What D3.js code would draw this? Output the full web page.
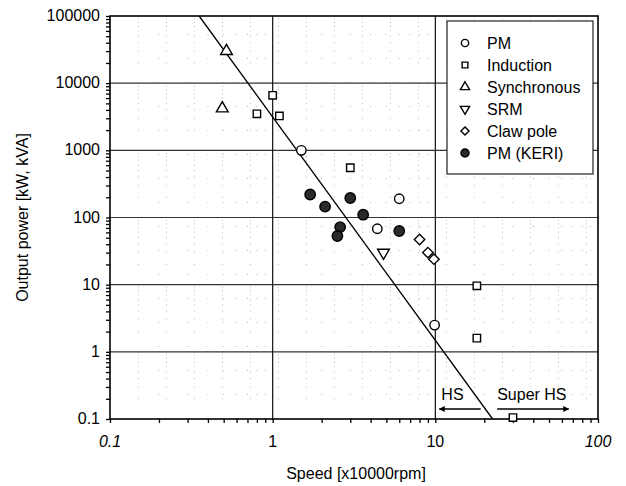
<!DOCTYPE html>
<html>
<head>
<meta charset="utf-8">
<script src="https://cdn.jsdelivr.net/npm/d3@7"></script>
<style>
  body { margin: 0; background: #fff; }
  svg { font-family: "Liberation Sans", Arial, sans-serif; }
</style>
</head>
<body>
<svg id="chart" width="626" height="486"></svg>
<script>
// series (speed x10000rpm, power kW/kVA)
var seriesNames = ["PM", "Induction", "Synchronous", "SRM", "Claw pole", "PM (KERI)"];
var pmX = [1.5, 6, 4.4, 9.9];
var pmY = [1000, 190, 68, 2.5];
var indX = [1.0, 0.8, 1.1, 3.0, 18, 18, 30];
var indY = [6600, 3500, 3250, 550, 9.6, 1.6, 0.105];
var synX = [0.52, 0.49];
var synY = [30000, 4200];
var srmX = [4.8];
var srmY = [30];
var clawX = [8, 9, 9.8];
var clawY = [47, 30, 24];
var keriX = [1.7, 2.1, 3.0, 3.6, 2.6, 2.5, 6.0];
var keriY = [220, 145, 195, 110, 72, 53, 63];
var trendX = [0.353, 22.5];
var trendY = [100000, 0.1];
var xTicks = [0.1, 1, 10, 100];
var yTicks = [0.1, 1, 10, 100, 1000, 10000, 100000];

var svg = d3.select("svg#chart");
var margin = { left: 110, right: 28, top: 16, bottom: 67 };
var width = 626, height = 486;

var x = d3.scaleLog().domain([0.1, 100]).range([margin.left, width - margin.right]);
var y = d3.scaleLog().domain([0.1, 100000]).range([height - margin.bottom, margin.top]);

var g = svg.append("g");

// minor dotted grid (very sparse in the original)
var minorX = [], minorY = [];
for (var d = 0.1; d < 100; d *= 10) for (var k = 2; k < 10; k++) minorX.push(d * k);
for (var d = 0.1; d < 100000; d *= 10) for (var k = 2; k < 10; k++) minorY.push(d * k);

g.selectAll("line.mx").data(minorX).enter().append("line")
    .attr("x1", d => x(d)).attr("x2", d => x(d))
    .attr("y1", y(0.1)).attr("y2", y(100000))
    .attr("stroke", "#bbb").attr("stroke-width", 1).attr("stroke-dasharray", "1,23");
g.selectAll("line.my").data(minorY).enter().append("line")
    .attr("x1", x(0.1)).attr("x2", x(100))
    .attr("y1", d => y(d)).attr("y2", d => y(d))
    .attr("stroke", "#bbb").attr("stroke-width", 1).attr("stroke-dasharray", "1,27");

// major grid
g.selectAll("line.gy").data(yTicks.slice(1, -1)).enter().append("line")
    .attr("x1", x(0.1)).attr("x2", x(100))
    .attr("y1", d => y(d)).attr("y2", d => y(d))
    .attr("stroke", "#333").attr("stroke-width", 1.2);
g.selectAll("line.gx").data(xTicks.slice(1, -1)).enter().append("line")
    .attr("x1", d => x(d)).attr("x2", d => x(d))
    .attr("y1", y(0.1)).attr("y2", y(100000))
    .attr("stroke", "#111").attr("stroke-width", 1.2);

// frame
svg.append("rect")
    .attr("x", x(0.1)).attr("y", y(100000))
    .attr("width", x(100) - x(0.1)).attr("height", y(0.1) - y(100000))
    .attr("fill", "none").attr("stroke", "#000").attr("stroke-width", 1.6);

// axes
var xAxis = d3.axisBottom(x).tickValues(minorX.concat(xTicks)).tickSize(4).tickFormat("");
svg.append("g").attr("transform", "translate(0," + y(0.1) + ")").call(xAxis)
    .call(a => a.select(".domain").remove())
    .selectAll("line").attr("stroke", "#000").attr("stroke-width", 1.3);
svg.selectAll("text.xt").data(xTicks).enter().append("text")
    .attr("x", d => x(d)).attr("y", y(0.1) + 28)
    .attr("text-anchor", "middle").attr("font-size", 16)
    .attr("font-style", d => (d == 0.1 || d == 100) ? "italic" : "normal")
    .text(d => d);

var yAxis = d3.axisLeft(y).tickValues(minorY.concat(yTicks)).tickSize(4).tickFormat("");
svg.append("g").attr("transform", "translate(" + x(0.1) + ",0)").call(yAxis)
    .call(a => a.select(".domain").remove())
    .selectAll("line").attr("stroke", "#000").attr("stroke-width", 1.3);
svg.selectAll("text.yt").data(yTicks).enter().append("text")
    .attr("x", x(0.1) - 10).attr("y", d => y(d) + 5)
    .attr("text-anchor", "end").attr("font-size", 16)
    .text(d => d);

svg.append("text")
    .attr("x", (x(0.1) + x(100)) / 2 + 2).attr("y", 479)
    .attr("text-anchor", "middle").attr("font-size", 16)
    .text("Speed [x10000rpm]");
svg.append("text")
    .attr("transform", "translate(28," + (y(0.1) + y(100000)) / 2 + ") rotate(-90)")
    .attr("text-anchor", "middle").attr("font-size", 16)
    .text("Output power [kW, kVA]");

// trend line
svg.append("line")
    .attr("x1", x(trendX[0])).attr("y1", y(trendY[0]))
    .attr("x2", x(trendX[1])).attr("y2", y(trendY[1]))
    .attr("stroke", "#000").attr("stroke-width", 1.3);

// markers
var shapes = [
    { sym: d3.symbolCircle, size: 70, rot: 0, fill: "#fff" },
    { sym: d3.symbolSquare, size: 55, rot: 0, fill: "#fff" },
    { sym: d3.symbolTriangle, size: 60, rot: 0, fill: "#fff" },
    { sym: d3.symbolTriangle, size: 60, rot: 180, fill: "#fff" },
    { sym: d3.symbolSquare, size: 55, rot: 45, fill: "#fff" },
    { sym: d3.symbolCircle, size: 85, rot: 0, fill: "#2a2a2a" }
];
var groups = [[pmX, pmY], [indX, indY], [synX, synY], [srmX, srmY], [clawX, clawY], [keriX, keriY]];

groups.forEach((s, i) => {
    var sh = shapes[i];
    svg.selectAll("path.s" + i).data(s[0]).enter().append("path")
        .attr("d", d3.symbol().type(sh.sym).size(sh.size))
        .attr("transform", (d, j) => "translate(" + x(d) + "," + y(s[1][j]) + ") rotate(" + sh.rot + ")")
        .attr("fill", sh.fill).attr("stroke", "#000").attr("stroke-width", 1.4);
});

// HS / Super HS arrows
var defs = svg.append("defs");
defs.append("marker").attr("id", "ah").attr("viewBox", "0 0 10 10")
    .attr("refX", 9).attr("refY", 5).attr("markerWidth", 9).attr("markerHeight", 6)
    .attr("orient", "auto-start-reverse").attr("markerUnits", "userSpaceOnUse")
    .append("path").attr("d", "M0,0 L10,5 L0,10 Z").attr("fill", "#000");

var arrowY = 409;
svg.append("line").attr("x1", x(10) + 4).attr("x2", x(19))
    .attr("y1", arrowY).attr("y2", arrowY)
    .attr("stroke", "#000").attr("stroke-width", 1.6).attr("marker-start", "url(#ah)");
svg.append("line").attr("x1", x(24)).attr("x2", x(66))
    .attr("y1", arrowY).attr("y2", arrowY)
    .attr("stroke", "#000").attr("stroke-width", 1.6).attr("marker-end", "url(#ah)");
svg.append("text").attr("x", x(10) + 6).attr("y", 400).attr("font-size", 16).text("HS");
svg.append("text").attr("x", x(24)).attr("y", 400).attr("font-size", 16).text("Super HS");

// legend
var lg = svg.append("g").attr("transform", "translate(447,21)");
lg.append("rect").attr("width", 146).attr("height", 153)
    .attr("fill", "#fff").attr("stroke", "#222").attr("stroke-width", 1.2);
seriesNames.forEach((name, i) => {
    var sh = shapes[i];
    var yy = 22 + i * 22;
    lg.append("path")
        .attr("d", d3.symbol().type(sh.sym).size(sh.size * 0.6))
        .attr("transform", "translate(18," + yy + ") rotate(" + sh.rot + ")")
        .attr("fill", sh.fill).attr("stroke", "#000").attr("stroke-width", 1.4);
    lg.append("text").attr("x", 40).attr("y", yy + 6).attr("font-size", 16).text(name);
});
</script>
</body>
</html>
